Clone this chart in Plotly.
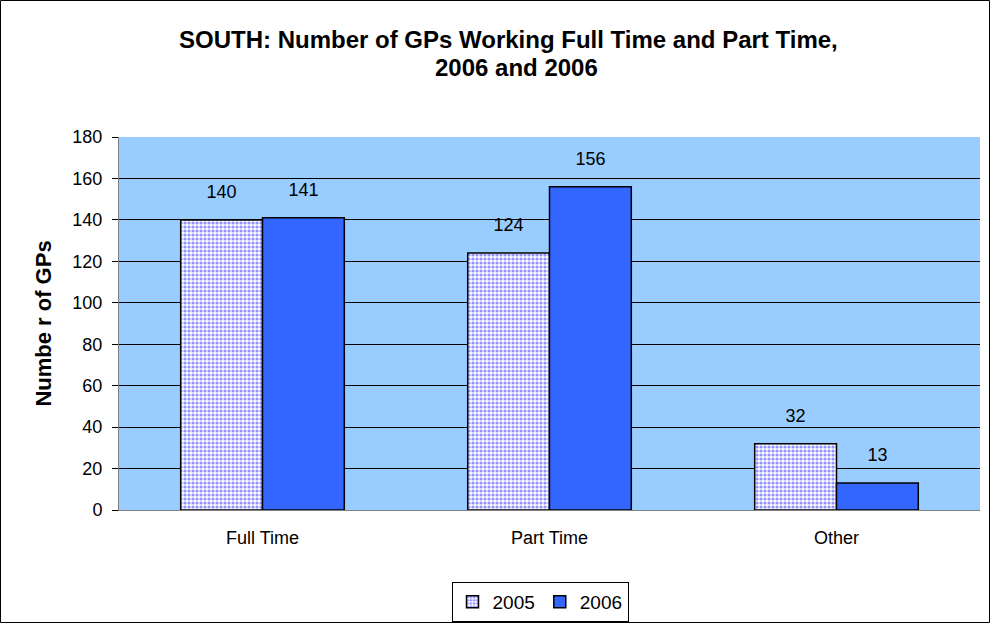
import plotly.graph_objects as go

categories = ["Full Time", "Part Time", "Other"]
values_2005 = [140, 124, 32]
values_2006 = [141, 156, 13]
series_names = ["2005", "2006"]
title_lines = ["SOUTH: Number of GPs Working Full Time and Part Time,", "2006 and 2006"]

W, H = 991, 624
L, R, T, B = 119, 11, 137, 114
pw, ph = W - L - R, H - T - B
FONT = "Arial, Liberation Sans, sans-serif"


def px_x(p):
    return (p - L) / pw


def px_y(p):
    return (H - B - p) / ph


fig = go.Figure()
fig.add_trace(go.Bar(
    x=categories, y=values_2005, name=series_names[0], offsetgroup="a",
    marker=dict(color="white", line=dict(color="black", width=1.5),
                pattern=dict(shape=".", fgcolor="#2828FF", bgcolor="#FAFAFF", size=4, solidity=0.5)),
))
fig.add_trace(go.Bar(
    x=categories, y=values_2006, name=series_names[1], offsetgroup="b",
    marker=dict(color="#3366FF", line=dict(color="black", width=1.5)),
))
# value labels, grouped like the bars
for vals, grp in ((values_2005, "a"), (values_2006, "b")):
    fig.add_trace(go.Scatter(
        x=categories, y=vals, text=vals, mode="markers+text", offsetgroup=grp,
        textposition="top center", textfont=dict(family=FONT, size=18, color="black"),
        marker=dict(size=26, opacity=0), showlegend=False, hoverinfo="skip", cliponaxis=False,
    ))

fig.add_shape(type="rect", xref="paper", yref="paper",
              x0=px_x(0.5), x1=px_x(W - 1.5), y0=px_y(H - 1.5), y1=px_y(0.5),
              line=dict(color="black", width=1), layer="below")

fig.add_annotation(text="<b>%s</b>" % title_lines[0], xref="paper", yref="paper",
                   x=px_x(508), y=px_y(39), xanchor="center", yanchor="middle",
                   showarrow=False, font=dict(family=FONT, size=24, color="black"))
fig.add_annotation(text="<b>%s</b>" % title_lines[1], xref="paper", yref="paper",
                   x=px_x(516), y=px_y(67), xanchor="center", yanchor="middle",
                   showarrow=False, font=dict(family=FONT, size=24, color="black"))

fig.update_layout(
    width=W, height=H,
    margin=dict(l=L, r=R, t=T, b=B, pad=0, autoexpand=False),
    paper_bgcolor="white", plot_bgcolor="#99CCFF",
    font=dict(family=FONT, size=18, color="black"),
    bargap=0.43, bargroupgap=0,
    barmode="group", scattermode="group", scattergap=0.43,
    showlegend=True,
    legend=dict(orientation="h", x=px_x(540), xanchor="center", y=px_y(582), yanchor="top",
                bordercolor="black", borderwidth=1, bgcolor="white",
                font=dict(size=19), itemwidth=30, traceorder="normal"),
    xaxis=dict(showgrid=False, showline=True, linecolor="#808080", linewidth=1,
               ticks="", tickfont=dict(size=18), ticklabelstandoff=11),
    yaxis=dict(range=[0, 180], dtick=20, showgrid=True, gridcolor="black", gridwidth=1,
               showline=True, linecolor="#808080", linewidth=1,
               ticks="outside", ticklen=6, tickcolor="black", tickfont=dict(size=18),
               ticklabelstandoff=6,
               title=dict(text="<b>Numbe r of GPs</b>", font=dict(size=22), standoff=14),
               zeroline=False),
)

fig.write_html("out.html", config={"displayModeBar": False},
               post_script="document.body.style.margin='0';document.body.style.overflow='hidden';")
